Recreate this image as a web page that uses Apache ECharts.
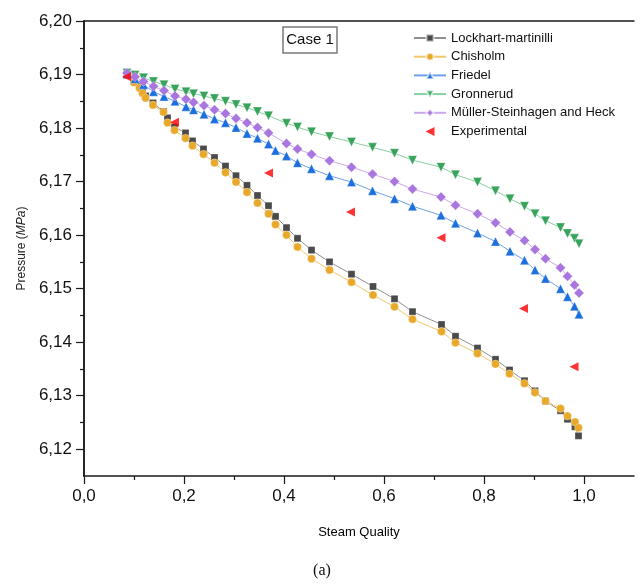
<!DOCTYPE html>
<html>
<head>
<meta charset="utf-8">
<script src="https://cdn.jsdelivr.net/npm/echarts@6/dist/echarts.min.js"></script>
<style>html,body{margin:0;padding:0;background:#fff}#c{width:641px;height:588px}</style>
</head>
<body>
<div id="c"></div>
<script>
// ---- data ----
const qualityLower = [0.086,0.100,0.111,0.117,0.123,0.138,0.159,0.167,0.181,0.203,0.217,0.239,0.261,0.283,0.304,0.326,0.347,0.369,0.383,0.405,0.427,0.455,0.491,0.535,0.578,0.621,0.657,0.715,0.743,0.787,0.823,0.851,0.881,0.902,0.923,0.953,0.967,0.982,0.989];
const lockhart = [6.1899,6.1888,6.1879,6.1869,6.1860,6.1847,6.1831,6.1819,6.1802,6.1791,6.1776,6.1761,6.1745,6.1729,6.1711,6.1693,6.1674,6.1655,6.1635,6.1614,6.1594,6.1572,6.1550,6.1527,6.1504,6.1481,6.1457,6.1433,6.1411,6.1389,6.1368,6.1348,6.1328,6.1309,6.1290,6.1272,6.1256,6.1242,6.1225];
const chisholm = [6.1899,6.1885,6.1875,6.1865,6.1856,6.1843,6.1830,6.1810,6.1796,6.1781,6.1767,6.1751,6.1735,6.1717,6.1699,6.1680,6.1660,6.1640,6.1620,6.1600,6.1578,6.1556,6.1535,6.1512,6.1488,6.1466,6.1443,6.1420,6.1399,6.1379,6.1359,6.1341,6.1323,6.1306,6.1290,6.1276,6.1262,6.1251,6.1240];

const qualityUpper = [0.086,0.102,0.119,0.139,0.160,0.182,0.204,0.219,0.240,0.261,0.283,0.304,0.326,0.347,0.369,0.383,0.405,0.427,0.455,0.491,0.535,0.577,0.621,0.657,0.714,0.743,0.787,0.823,0.852,0.881,0.902,0.923,0.953,0.967,0.981,0.990];
const friedel = [6.1901,6.1892,6.1881,6.1868,6.1859,6.1850,6.1840,6.1834,6.1826,6.1817,6.1810,6.1801,6.1790,6.1781,6.1770,6.1758,6.1748,6.1735,6.1724,6.1711,6.1699,6.1683,6.1668,6.1654,6.1637,6.1622,6.1604,6.1588,6.1570,6.1553,6.1535,6.1519,6.1500,6.1485,6.1467,6.1452];
const gronnerud = [6.1903,6.1899,6.1894,6.1887,6.1881,6.1873,6.1868,6.1864,6.1860,6.1855,6.1850,6.1844,6.1838,6.1831,6.1823,null,6.1809,6.1802,6.1793,6.1784,6.1774,6.1764,6.1753,6.1740,6.1727,6.1713,6.1699,6.1683,6.1668,6.1654,6.1640,6.1627,6.1614,6.1603,6.1594,6.1584];
const muller = [6.1903,6.1896,6.1887,6.1878,6.1870,6.1860,6.1854,6.1848,6.1842,6.1834,6.1827,6.1818,6.1810,6.1801,6.1791,null,6.1771,6.1761,6.1751,6.1739,6.1727,6.1714,6.1700,6.1686,6.1671,6.1656,6.1640,6.1623,6.1606,6.1590,6.1573,6.1556,6.1539,6.1523,6.1507,6.1492];

const qualityExp = [0.085,0.181,0.369,0.533,0.714,0.879,0.980];
const experimental = [6.1896,6.1811,6.1716,6.1643,6.1595,6.1463,6.1354];

const xTicks = [0,0.2,0.4,0.6,0.8,1.0];
const xMinorTicks = [0.1,0.3,0.5,0.7,0.9];
const yTicks = [6.12,6.13,6.14,6.15,6.16,6.17,6.18,6.19,6.20];
const yMinorTicks = [6.125,6.135,6.145,6.155,6.165,6.175,6.185,6.195];

const seriesNames = ['Lockhart-martinilli','Chisholm','Friedel','Gronnerud','Müller-Steinhagen and Heck','Experimental'];

// ---- build ----
const pairs = (xs, ys) => xs.map((x, i) => [x, ys[i]]);
const FONT = "'Liberation Sans', Arial, sans-serif";

function lineSeries(name, xs, ys, symbol, size, mark, line, rotate) {
  return {
    name, type: 'line', data: pairs(xs, ys), connectNulls: true,
    symbol, symbolSize: size, symbolRotate: rotate || 0,
    showAllSymbol: true,
    itemStyle: { color: mark, borderColor: 'rgba(255,255,255,0.6)', borderWidth: 0.5 },
    lineStyle: { color: line, width: 1 },
    emphasis: { disabled: true }, animation: false
  };
}

const chart = echarts.init(document.getElementById('c'), null, { renderer: 'canvas' });
const axisColor = '#1a1a1a';
chart.setOption({
  animation: false,
  textStyle: { fontFamily: FONT },
  grid: { left: 84, right: 7, top: 21, bottom: 112, containLabel: false },
  xAxis: [
    {
      type: 'value', min: 0, max: 1.1, position: 'bottom',
      name: 'Steam Quality', nameLocation: 'middle', nameGap: 50,
      nameTextStyle: { fontSize: 13, color: '#000', fontFamily: FONT },
      axisLine: { show: true, lineStyle: { color: axisColor, width: 1.5 } },
      axisTick: { show: true, inside: false, length: 8, customValues: xTicks, lineStyle: { color: axisColor, width: 1.2 } },
      axisLabel: { show: true, customValues: xTicks, margin: 12, fontSize: 17, color: '#111', fontFamily: FONT,
        formatter: v => v.toFixed(1).replace('.', ',') },
      splitLine: { show: false }
    },
    {
      type: 'value', min: 0, max: 1.1, position: 'bottom',
      axisLine: { show: false },
      axisTick: { show: true, inside: false, length: 4, customValues: xMinorTicks, lineStyle: { color: axisColor, width: 1.2 } },
      axisLabel: { show: false }, splitLine: { show: false }
    },
    {
      type: 'value', min: 0, max: 1.1, position: 'top',
      axisLine: { show: true, lineStyle: { color: axisColor, width: 1.5 } },
      axisTick: { show: false }, axisLabel: { show: false }, splitLine: { show: false }
    }
  ],
  yAxis: [
    {
      type: 'value', min: 6.115, max: 6.2, position: 'left',
      name: '{a|Pressure (}{b|MPa}{a|)}', nameLocation: 'middle', nameGap: 55, nameRotate: 90,
      nameTextStyle: { rich: { a: { fontSize: 12, color: '#222', fontFamily: FONT }, b: { fontSize: 12, color: '#222', fontStyle: 'italic', fontFamily: FONT } } },
      axisLine: { show: true, lineStyle: { color: axisColor, width: 1.5 } },
      axisTick: { show: true, inside: false, length: 8, customValues: yTicks, lineStyle: { color: axisColor, width: 1.2 } },
      axisLabel: { show: true, customValues: yTicks, margin: 12, fontSize: 17, color: '#111', fontFamily: FONT,
        formatter: v => v.toFixed(2).replace('.', ',') },
      splitLine: { show: false }
    },
    {
      type: 'value', min: 6.115, max: 6.2, position: 'left',
      axisLine: { show: false },
      axisTick: { show: true, inside: false, length: 4, customValues: yMinorTicks, lineStyle: { color: axisColor, width: 1.2 } },
      axisLabel: { show: false }, splitLine: { show: false }
    },
    {
      type: 'value', min: 6.115, max: 6.2, position: 'right',
      axisLine: { show: true, lineStyle: { color: axisColor, width: 1.5 } },
      axisTick: { show: false }, axisLabel: { show: false }, splitLine: { show: false }
    }
  ],
  legend: {
    show: true, orient: 'vertical', left: 408, top: 26,
    itemWidth: 32, itemHeight: 9, itemGap: 4.7, selectedMode: false,
    textStyle: { fontSize: 13, color: '#111', lineHeight: 14, fontFamily: FONT },
    data: seriesNames.slice(0, 5).concat([{ name: seriesNames[5], icon: 'path://M0,4 L8,0 L8,8 Z', itemStyle: { color: '#FF0000' } }])
  },
  graphic: [
    { type: 'rect', shape: { x: 283, y: 27, width: 54, height: 26 }, style: { fill: '#fff', stroke: '#7a7a7a', lineWidth: 1.5 }, z: 10 },
    { type: 'text', x: 310, y: 40, style: { text: 'Case 1', font: "15px 'Liberation Sans', Arial", fill: '#111', align: 'center', verticalAlign: 'middle' }, z: 11 },
    { type: 'text', x: 322, y: 571, style: { text: '(a)', font: "16px 'Liberation Serif', 'Times New Roman', serif", fill: '#111', align: 'center', verticalAlign: 'middle' } }
  ],
  series: [
    lineSeries(seriesNames[0], qualityLower, lockhart, 'rect', 7, '#4a4a4a', '#8f8f8f'),
    lineSeries(seriesNames[1], qualityLower, chisholm, 'circle', 8, '#E8A82A', '#F2C76A'),
    lineSeries(seriesNames[2], qualityUpper, friedel, 'triangle', 9, '#1D6FDD', '#6EA1EA'),
    lineSeries(seriesNames[3], qualityUpper, gronnerud, 'triangle', 9, '#38A35B', '#86CFA1', 180),
    lineSeries(seriesNames[4], qualityUpper, muller, 'diamond', 10, '#A975DE', '#CBA6F0'),
    {
      name: seriesNames[5], type: 'scatter', data: pairs(qualityExp, experimental),
      symbol: 'triangle', symbolSize: 9, symbolRotate: 90,
      itemStyle: { color: '#FF0000' }, emphasis: { disabled: true }, z: 5
    }
  ]
});
</script>
</body>
</html>
